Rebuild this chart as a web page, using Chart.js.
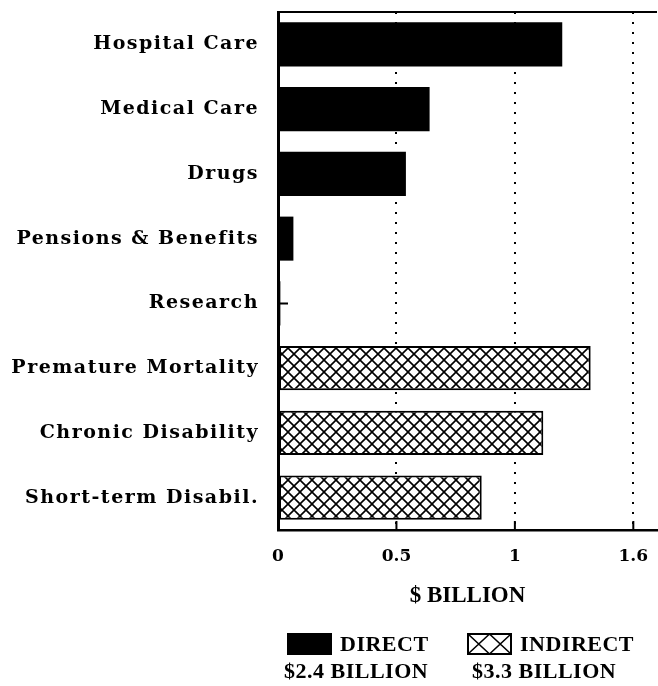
<!DOCTYPE html>
<html>
<head>
<meta charset="utf-8">
<script src="https://cdn.jsdelivr.net/npm/chart.js@4.4.0/dist/chart.umd.min.js"></script>
<style>
  html, body { margin: 0; padding: 0; background: #fff; }
  #wrap { position: relative; width: 658px; height: 686px; }
  .leg { position: absolute; font-family: "Liberation Serif", serif; font-weight: bold; font-size: 22px; color: #000; line-height: 26px; letter-spacing: 0.5px; white-space: nowrap; }
  .sw { position: absolute; }
</style>
</head>
<body>
<div id="wrap">
  <canvas id="chart" width="658" height="686"></canvas>
  <div class="sw" style="left:287px;top:633px;width:45px;height:22px;background:#000;"></div>
  <div class="leg" style="left:340px;top:631px;">DIRECT</div>
  <div class="leg" style="left:284px;top:658px;">$2.4 BILLION</div>
  <svg class="sw" style="left:467px;top:633px;" width="45" height="22">
    <rect x="1" y="1" width="43" height="20" fill="#fff" stroke="#000" stroke-width="2"/>
    <path d="M1 1 L22.5 21 M22.5 1 L1 21 M22.5 1 L44 21 M44 1 L22.5 21" stroke="#000" stroke-width="1.6"/>
  </svg>
  <div class="leg" style="left:520px;top:631px;">INDIRECT</div>
  <div class="leg" style="left:472px;top:658px;">$3.3 BILLION</div>
</div>
<script>
const categories = [
  "Hospital Care", "Medical Care", "Drugs", "Pensions & Benefits",
  "Research", "Premature Mortality", "Chronic Disability", "Short-term Disabil."
];
// $ billion
const directCosts = [1.2, 0.64, 0.54, 0.065, 0.01, null, null, null];
const indirectCosts = [null, null, null, null, null, 1.32, 1.12, 0.86];
const xTickValues = [0, 0.5, 1, 1.5];
const xTickLabels = ["0", "0.5", "1", "1.6"];

// cross-hatch fill for the indirect bars
function hatch() {
  const c = document.createElement("canvas");
  c.width = 12; c.height = 12;
  const g = c.getContext("2d");
  g.fillStyle = "#fff";
  g.fillRect(0, 0, 12, 12);
  g.strokeStyle = "#000";
  g.lineWidth = 1.6;
  g.beginPath();
  g.moveTo(-1, -1); g.lineTo(13, 13);
  g.moveTo(13, -1); g.lineTo(-1, 13);
  g.stroke();
  return g.createPattern(c, "repeat");
}

// the category labels are widely spaced in the original
function spacedLabels(s) {
  if (s._spaced) return;
  s._spaced = true;
  const orig = s.drawLabels;
  s.drawLabels = function (area) {
    this.ctx.letterSpacing = "1.5px";
    orig.call(this, area);
    this.ctx.letterSpacing = "0px";
  };
}

const ctx = document.getElementById("chart").getContext("2d");

// top frame line and inward tick marks
const frame = {
  id: "frame",
  beforeDatasetsDraw(chart) {
    const { ctx, chartArea, scales } = chart;
    ctx.save();
    ctx.strokeStyle = "#000";
    ctx.lineWidth = 2;
    ctx.beginPath();
    scales.y.ticks.forEach((t, i) => {
      const y = scales.y.getPixelForTick(i);
      ctx.moveTo(chartArea.left, y);
      ctx.lineTo(chartArea.left + 10, y);
    });
    ctx.stroke();
    ctx.restore();
  },
  afterDatasetsDraw(chart) {
    const { ctx, chartArea, scales } = chart;
    ctx.save();
    ctx.strokeStyle = "#000";
    ctx.lineWidth = 2;
    ctx.beginPath();
    ctx.moveTo(chartArea.left, chartArea.top);
    ctx.lineTo(chartArea.right, chartArea.top);
    xTickValues.forEach(v => {
      if (v === 0) return;
      const x = scales.x.getPixelForValue(v);
      ctx.moveTo(x, chartArea.bottom);
      ctx.lineTo(x, chartArea.bottom - 9);
    });
    ctx.stroke();
    ctx.restore();
  }
};

new Chart(ctx, {
  type: "bar",
  data: {
    labels: categories,
    datasets: [
      {
        label: "DIRECT",
        data: directCosts,
        backgroundColor: "#000",
        borderWidth: 0,
        grouped: false
      },
      {
        label: "INDIRECT",
        data: indirectCosts,
        backgroundColor: hatch(),
        borderColor: "#000",
        borderWidth: 2,
        borderSkipped: false,
        grouped: false
      }
    ]
  },
  options: {
    indexAxis: "y",
    responsive: false,
    animation: false,
    barPercentage: 0.68,
    categoryPercentage: 1,
    layout: { padding: { top: 12, right: 1, left: 0, bottom: 74 } },
    plugins: {
      legend: { display: false },
      tooltip: { enabled: false }
    },
    scales: {
      x: {
        min: 0,
        max: 1.6,
        afterBuildTicks: s => { s.ticks = xTickValues.map(v => ({ value: v })); },
        afterFit: s => { s.height = 82; s.paddingLeft = 0; s.paddingRight = 0; },
        grid: {
          color: c => (c.tick && c.tick.value === 0 ? "rgba(0,0,0,0)" : "#000"),
          lineWidth: 2,
          drawTicks: false
        },
        border: { display: true, color: "#000", width: 2.5, dash: [2, 8] },
        ticks: {
          color: "#000",
          padding: 16,
          font: { family: "DejaVu Serif", weight: "bold", size: 17 },
          callback: v => xTickLabels[xTickValues.indexOf(v)]
        },
        title: {
          display: true,
          text: "$ BILLION",
          color: "#000",
          font: { family: "Liberation Serif", weight: "bold", size: 23 },
          padding: { top: 0, bottom: 2 }
        }
      },
      y: {
        afterFit: s => { s.width = 278; s.paddingTop = 0; s.paddingBottom = 0; spacedLabels(s); },
        grid: { display: false },
        border: { display: true, color: "#000", width: 3 },
        ticks: {
          color: "#000",
          padding: 11,
          font: { family: "DejaVu Serif", weight: "bold", size: 19 }
        }
      }
    }
  },
  plugins: [frame]
});
</script>
</body>
</html>
